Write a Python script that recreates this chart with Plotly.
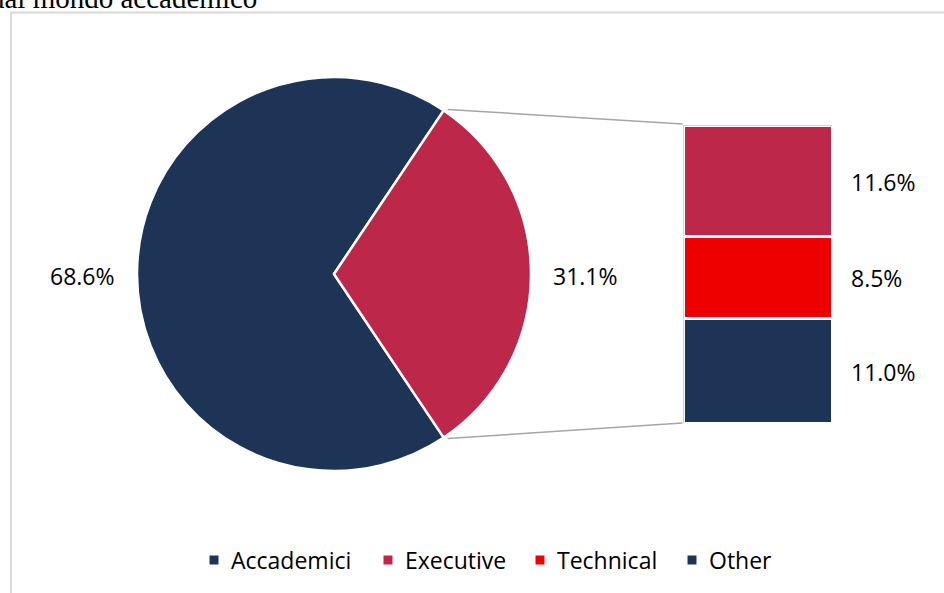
import math
import plotly.graph_objects as go

# ---- data -------------------------------------------------------------
pie_labels = ["Accademici", "Non accademici"]
pie_values = [68.6, 31.1]

bar_labels = ["Executive", "Technical", "Other"]
bar_values = [11.6, 8.5, 11.0]

legend_labels = ["Accademici", "Executive", "Technical", "Other"]

title_text = "dal mondo accademico"

# ---- styling ----------------------------------------------------------
NAVY = "#1e3456"
CRIMSON = "#bd2749"
RED = "#ee0000"
pie_colors = [NAVY, CRIMSON]
bar_colors = [CRIMSON, RED, NAVY]
legend_colors = [NAVY, CRIMSON, RED, NAVY]

W, H = 944, 593
FONT = "Open Sans"


def px(x):
    return x / W


def py(y):
    return 1 - y / H


# pie geometry (pixels)
cx, cy, r = 334, 274, 197
# stacked bar geometry (pixels, outer box incl. white separator)
bx0, bx1, by0, by1 = 683.5, 832.2, 125.5, 423.5

total_pie = sum(pie_values)
split_frac = pie_values[1] / total_pie
half_angle = split_frac * 180.0  # degrees either side of 3 o'clock

fig = go.Figure()

fig.add_trace(go.Pie(
    labels=pie_labels,
    values=pie_values,
    sort=False,
    direction="clockwise",
    rotation=90 + half_angle,
    marker=dict(colors=pie_colors, line=dict(color="white", width=2.5)),
    textinfo="none",
    hoverinfo="label+value",
    showlegend=False,
    domain=dict(x=[px(cx - r), px(cx + r)], y=[py(cy + r), py(cy - r)]),
))

# stacked bar, bottom to top: Other, Technical, Executive
for name, val, col in reversed(list(zip(bar_labels, bar_values, bar_colors))):
    fig.add_trace(go.Bar(
        x=[0], y=[val], name=name, width=1,
        marker=dict(color=col, line=dict(color="white", width=3)),
        xaxis="x", yaxis="y", showlegend=False,
        hovertemplate=name + ": %{y}%<extra></extra>",
    ))

bar_total = sum(bar_values)

annotations = []
# pie value labels
annotations.append(dict(
    x=px(82), y=py(276), xref="paper", yref="paper",
    text=f"{pie_values[0]:.1f}%", showarrow=False,
    xanchor="center", yanchor="middle",
    font=dict(family=FONT, size=23, color="#000000"),
))
annotations.append(dict(
    x=px(585), y=py(276), xref="paper", yref="paper",
    text=f"{pie_values[1]:.1f}%", showarrow=False,
    xanchor="center", yanchor="middle",
    font=dict(family=FONT, size=23, color="#000000"),
))

# bar value labels at segment middles
base = 0.0
for name, val in reversed(list(zip(bar_labels, bar_values))):
    annotations.append(dict(
        x=0.5, y=base + val / 2, xref="x", yref="y",
        text=f"{val:.1f}%", showarrow=False,
        xanchor="left", yanchor="middle", xshift=17, yshift=-1,
        font=dict(family=FONT, size=23, color="#000000"),
    ))
    base += val

# heading text, partly clipped at the top edge
annotations.append(dict(
    x=px(-12), y=py(-2), xref="paper", yref="paper",
    text=title_text, showarrow=False,
    xanchor="left", yanchor="middle",
    font=dict(family="Liberation Serif", size=29, color="#000000"),
))

shapes = []
# chart frame
shapes.append(dict(
    type="rect", xref="paper", yref="paper",
    x0=px(11), y0=py(12.5), x1=px(W + 20), y1=py(H + 20),
    line=dict(color="#d9d9d9", width=2), fillcolor="rgba(0,0,0,0)", layer="below",
))

# connector lines from the split wedge edges to the bar corners
a = math.radians(half_angle)
top_pt = (cx + r * math.cos(a) + 4, cy - r * math.sin(a) - 1)
bot_pt = (cx + r * math.cos(a) + 4, cy + r * math.sin(a) + 1)
for (x0, y0), y1 in ((top_pt, by0 - 1.5), (bot_pt, by1 - 0.5)):
    shapes.append(dict(
        type="line", xref="paper", yref="paper",
        x0=px(x0), y0=py(y0), x1=px(bx0 - 1), y1=py(y1),
        line=dict(color="#a6a6a6", width=1.5),
    ))

# legend: square swatches + labels
legend_text_x = [229, 403, 555, 707]
legend_y = 560
sq = 9
for name, col, tx in zip(legend_labels, legend_colors, legend_text_x):
    sxc = tx - 15
    shapes.append(dict(
        type="rect", xref="paper", yref="paper",
        x0=px(sxc - sq / 2), x1=px(sxc + sq / 2),
        y0=py(legend_y + sq / 2), y1=py(legend_y - sq / 2),
        line=dict(width=0), fillcolor=col,
    ))
    annotations.append(dict(
        x=px(tx), y=py(legend_y), xref="paper", yref="paper",
        text=name, showarrow=False, xanchor="left", yanchor="middle",
        font=dict(family=FONT, size=23, color="#000000"),
    ))

fig.update_layout(
    width=W, height=H,
    margin=dict(l=0, r=0, t=0, b=0),
    paper_bgcolor="white", plot_bgcolor="rgba(0,0,0,0)",
    barmode="stack", bargap=0,
    xaxis=dict(domain=[px(bx0), px(bx1)], range=[-0.5, 0.5], visible=False, fixedrange=True),
    yaxis=dict(domain=[py(by1), py(by0)], range=[0, bar_total], visible=False, fixedrange=True),
    annotations=annotations,
    shapes=shapes,
    showlegend=False,
)

fig.write_html("out.html")
